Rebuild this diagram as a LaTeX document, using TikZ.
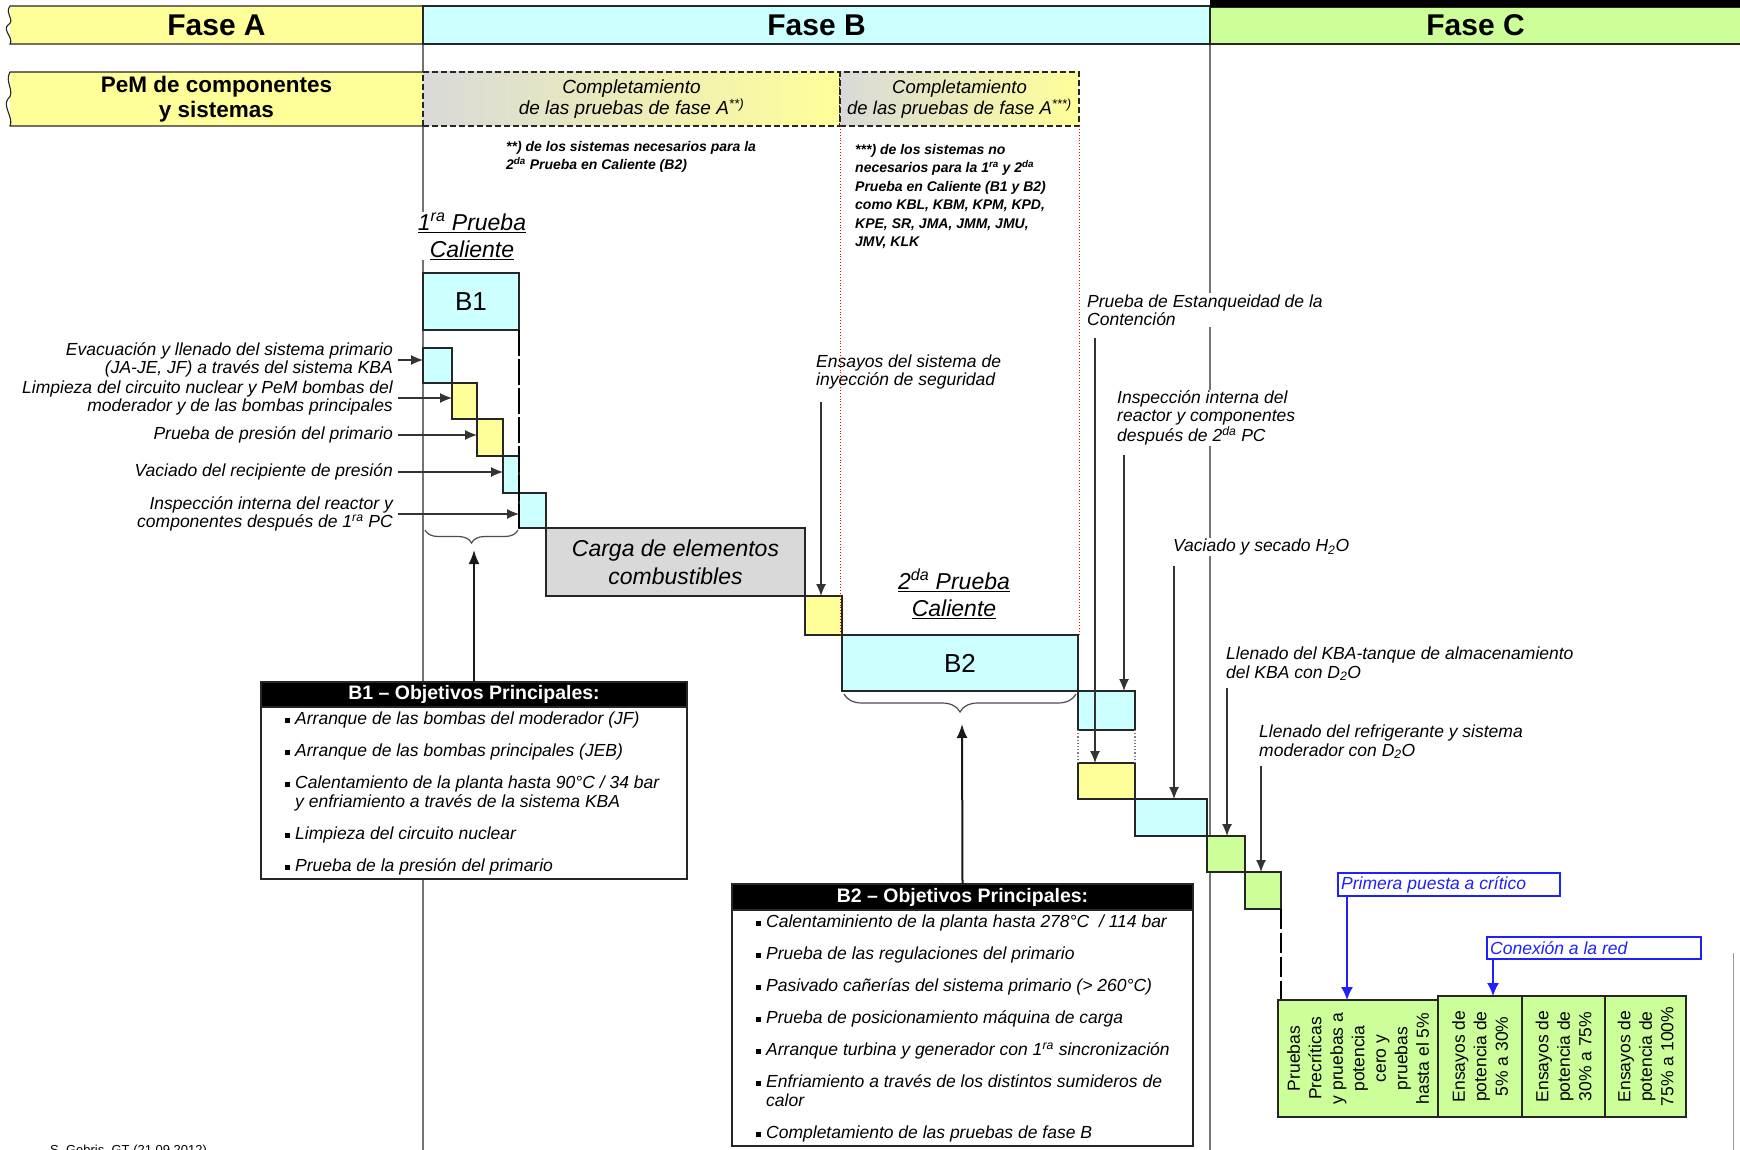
\documentclass[tikz,border=0pt]{standalone}
\usepackage{fontspec}
\setmainfont{Liberation Sans}
\usetikzlibrary{arrows.meta,decorations.pathreplacing}

\definecolor{fyel}{HTML}{FFFF99}
\definecolor{fcya}{HTML}{CCFFFF}
\definecolor{fgrn}{HTML}{CCFF99}
\definecolor{fgry}{HTML}{D9D9D9}
\definecolor{fblu}{HTML}{1F1FFF}

\newcommand{\fsz}[2]{\fontsize{#1}{#2}\selectfont}
\newcommand{\bul}{\rule[2pt]{5pt}{5pt}\hspace{5pt}}
\newcommand{\labbox}[7][]{
\node[stepbox,#1,minimum width={(#5-#3)*1pt},minimum height={(#6-#4)*1pt}] (#2) at ({(#3+#5)/2},{(#4+#6)/2}) {#7};
}

\tikzset{
  stepbox/.style={draw=black!85,line width=1.1pt,inner sep=0pt,outer sep=0pt,align=center},
  dbox/.style={dash pattern=on 6pt off 3pt,left color=fgry,right color=fyel},
  hdr/.style={fill=black,text=white,font=\fsz{19.5}{22}\bfseries},
  lab/.style={font=\fsz{17.5}{18.5}\itshape,inner sep=1pt,fill=white},
  note/.style={font=\fsz{14}{18.5}\bfseries\itshape,inner sep=0pt,align=left},
  ttl/.style={font=\fsz{23}{27}\itshape,inner sep=1pt,fill=white,align=center},
  itm/.style={font=\fsz{17.5}{19}\itshape,inner sep=0pt,align=left,anchor=north west},
  gtxt/.style={font=\fsz{17.5}{21.5},inner sep=0pt,align=center,rotate=90},
  btxt/.style={font=\fsz{17.5}{20}\itshape,text=fblu,inner sep=0pt,anchor=west},
  arr/.style={-{Latex[length=12pt,width=10pt]},line width=1.2pt,black!80},
  uparr/.style={-{Latex[length=14pt,width=11pt]},line width=2pt,black!90},
  barr/.style={-{Latex[length=13pt,width=12pt]},line width=1.4pt,fblu},
  brc/.style={decorate,decoration={brace,mirror,amplitude=#1},line width=1.2pt,black!70},
  vline/.style={black!55,line width=1.2pt},
}

\begin{document}
\begin{tikzpicture}[x=1pt,y=-1pt]
\useasboundingbox (0,0) rectangle (1740,1150);
\fill[white] (0,0) rectangle (1740,1150);

\draw[vline] (423,44) -- (423,1150);
\draw[vline] (1210,44) -- (1210,1150);
\draw[black!40,line width=1pt] (1733,953) -- (1733,1150);

% phases
\labbox[fill=fyel,draw=none,font={\fsz{30}{32}\bfseries}]{fa}{10}{6}{423}{44}{Fase A}
\labbox[fill=fcya,font={\fsz{30}{32}\bfseries}]{fb}{423}{6}{1210}{44}{Fase B}
\labbox[fill=fgrn,font={\fsz{30}{32}\bfseries}]{fc}{1210}{7}{1741}{44}{Fase C}
\fill[black] (1210,0) rectangle (1740,7);
\draw[black!85,line width=1.1pt] (fa.north east) -- (fa.north west) .. controls (4,14) and (16,20) .. (8,25) .. controls (2,30) and (14,38) .. (fa.south west) -- (fa.south east);

\labbox[fill=fyel,draw=none,font={\fsz{22.5}{25}\bfseries}]{pem}{10}{72}{423}{126}{PeM de componentes\\y sistemas}
\draw[black!85,line width=1.1pt] (pem.north east) -- (pem.north west) .. controls (4,82) and (16,92) .. (8,99) .. controls (2,106) and (14,118) .. (pem.south west) -- (pem.south east);
\labbox[dbox,font={\fsz{19}{21}\itshape}]{ca1}{423}{72}{840}{126}{Completamiento\\de las pruebas de fase A\textsuperscript{**)}}
\labbox[dbox,font={\fsz{18.5}{21}\itshape}]{ca2}{840}{72}{1079}{126}{Completamiento\\de las pruebas de fase A\textsuperscript{***)}}

\node[note,anchor=north west] (n1) at (506,141) {**) de los sistemas necesarios para la\\2\textsuperscript{da} Prueba en Caliente (B2)};
\node[note,anchor=north west] (n2) at (855,144) {***) de los sistemas no\\necesarios para la 1\textsuperscript{ra} y 2\textsuperscript{da}\\Prueba en Caliente (B1 y B2)\\como KBL, KBM, KPM, KPD,\\KPE, SR, JMA, JMM, JMU,\\JMV, KLK};

% staircase
\node[ttl] (t1) at (472,236) {\underline{1\textsuperscript{ra} Prueba}\\\underline{Caliente}};
\labbox[fill=fcya,font={\fsz{26}{28}}]{b1}{423}{273}{519}{330}{B1}
\labbox[fill=fcya]{s1}{423}{348}{452}{383}{}
\labbox[fill=fyel]{s2}{452}{383}{477}{419}{}
\labbox[fill=fyel]{s3}{477}{419}{503}{456}{}
\labbox[fill=fcya]{s4}{503}{456}{519}{493}{}
\labbox[fill=fcya]{s5}{519}{493}{546}{528}{}
\labbox[fill=fgry,font={\fsz{23}{28}\itshape}]{cg}{546}{528}{805}{596}{Carga de elementos\\combustibles}
\labbox[fill=fyel]{s7}{805}{596}{842}{635}{}
\node[ttl] (t2) at (954,594) {\underline{2\textsuperscript{da} Prueba}\\\underline{Caliente}};
\labbox[fill=fcya,font={\fsz{26}{28}}]{b2}{842}{635}{1078}{691}{B2}
\labbox[fill=fcya]{s9}{1078}{691}{1135}{730}{}
\labbox[fill=fyel]{s10}{1078}{763}{1135}{799}{}
\labbox[fill=fcya]{s11}{1135}{799}{1207}{836}{}
\labbox[fill=fgrn]{s12}{1207}{836}{1245}{872}{}
\labbox[fill=fgrn]{s13}{1245}{872}{1281}{909}{}

\draw[black,line width=1.1pt,dash pattern=on 26pt off 3pt] (b1.south east) -- (b1.south east |- s5.south);
\draw[black!50,line width=1.2pt,dotted] (s9.south west) -- (s10.north west);
\draw[black!50,line width=1.2pt,dotted] (s9.south east) -- (s10.north east);

% labels left
\node[lab,anchor=east,align=right] (ev) at (394,360) {Evacuación y llenado del sistema primario\\(JA-JE, JF) a través del sistema KBA};
\node[lab,anchor=east,align=right] (li) at (394,398) {Limpieza del circuito nuclear y PeM bombas del\\moderador y de las bombas principales};
\node[lab,anchor=east] (pp) at (394,435) {Prueba de presión del primario};
\node[lab,anchor=east] (va) at (394,472) {Vaciado del recipiente de presión};
\node[lab,anchor=east,align=right] (ii) at (394,514) {Inspección interna del reactor y\\componentes después de 1\textsuperscript{ra} PC};
\draw[arr] ([xshift=4pt]ev.east) -- (ev.east -| s1.west);
\draw[arr] ([xshift=4pt]li.east) -- (li.east -| s2.west);
\draw[arr] ([xshift=4pt]pp.east) -- (pp.east -| s3.west);
\draw[arr] ([xshift=4pt]va.east) -- (va.east -| s4.west);
\draw[arr] ([xshift=4pt]ii.east) -- (ii.east -| s5.west);

% labels right
\node[lab,anchor=west,align=left] (es) at (815,372) {Ensayos del sistema de\\inyección de seguridad};
\node[lab,anchor=west,align=left] (pe) at (1086,310) {Prueba de Estanqueidad de la\\Contención};
\node[lab,anchor=west,align=left] (ir) at (1116,418) {Inspección interna del\\reactor y componentes\\después de 2\textsuperscript{da} PC};
\node[lab,anchor=west] (vs) at (1172,547) {Vaciado y secado H\textsubscript{2}O};
\node[lab,anchor=west,align=left] (lk) at (1225,664) {Llenado del KBA-tanque de almacenamiento\\del KBA con D\textsubscript{2}O};
\node[lab,anchor=west,align=left] (lr) at (1258,742) {Llenado del refrigerante y sistema\\moderador con D\textsubscript{2}O};
\coordinate (es-a) at (821,402);
\coordinate (pe-a) at (1095,338);
\coordinate (ir-a) at (1124,455);
\coordinate (vs-a) at (1174,566);
\coordinate (lk-a) at (1227,688);
\coordinate (lr-a) at (1261,766);
\draw[arr] (es-a) -- (es-a |- s7.north);
\draw[arr] (pe-a) -- (pe-a |- s10.north);
\draw[arr] (ir-a) -- (ir-a |- s9.north);
\draw[arr] (vs-a) -- (vs-a |- s11.north);
\draw[arr] (lk-a) -- (lk-a |- s12.north);
\draw[arr] (lr-a) -- (lr-a |- s13.north);

\draw[red,line width=0.9pt,dotted] (ca2.south west) -- (ca2.south west |- b2.north);
\draw[red,line width=0.9pt,dotted] (ca2.south east) -- (ca2.south east |- b2.north);

% objectives
\draw[brc=13pt] (425,530) -- (518,530);
\coordinate (b1tip) at (474,550);
\labbox[hdr]{b1h}{261}{682}{687}{707}{B1 – Objetivos Principales:}
\labbox[fill=white]{b1o}{261}{707}{687}{879}{}
\node[itm] (b1t) at (285,712) {\bul Arranque de las bombas del moderador (JF)\\[13pt]
\bul Arranque de las bombas principales (JEB)\\[13pt]
\bul Calentamiento de la planta hasta 90°C / 34 bar\\
\phantom{\bul}y enfriamiento a través de la sistema KBA\\[13pt]
\bul Limpieza del circuito nuclear\\[13pt]
\bul Prueba de la presión del primario};
\draw[uparr] (b1h.north) -- (b1tip);

\draw[brc=18pt] (844,694) -- (1076,694);
\coordinate (b2tip) at (962,724);
\labbox[hdr]{b2h}{732}{884}{1193}{910}{B2 – Objetivos Principales:}
\labbox[fill=white]{b2o}{732}{910}{1193}{1146}{}
\node[itm] (b2t) at (756,915) {\bul Calentaminiento de la planta hasta 278°C~ / 114 bar\\[13pt]
\bul Prueba de las regulaciones del primario\\[13pt]
\bul Pasivado cañerías del sistema primario (> 260°C)\\[13pt]
\bul Prueba de posicionamiento máquina de carga\\[13pt]
\bul Arranque turbina y generador con 1\textsuperscript{ra} sincronización\\[13pt]
\bul Enfriamiento a través de los distintos sumideros de\\
\phantom{\bul}calor\\[13pt]
\bul Completamiento de las pruebas de fase B};
\draw[uparr] (b2h.north) -- (b2tip);

% phase C power tests
\draw[black,line width=1.1pt,dash pattern=on 20pt off 4pt] (s13.south east) -- (s13.south east |- 0,1000);
\labbox[fill=fgrn]{g1}{1278}{1000}{1438}{1117}{}
\labbox[fill=fgrn]{g2}{1438}{996}{1522}{1117}{}
\labbox[fill=fgrn]{g3}{1522}{996}{1605}{1117}{}
\labbox[fill=fgrn]{g4}{1605}{996}{1686}{1117}{}
\node[gtxt] (g1t) at (g1.center) {Pruebas\\Precríticas\\y pruebas a\\potencia\\cero y\\pruebas\\hasta el 5\%};
\node[gtxt] (g2t) at (g2.center) {Ensayos de\\potencia de\\5\% a 30\%};
\node[gtxt] (g3t) at (g3.center) {Ensayos de\\potencia de\\30\% a 75\%};
\node[gtxt] (g4t) at (g4.center) {Ensayos de\\potencia de\\75\% a 100\%};

\labbox[draw=fblu,line width=1.3pt]{pc}{1338}{873}{1560}{896}{}
\node[btxt] (pct) at ([xshift=3pt]pc.west) {Primera puesta a crítico};
\labbox[draw=fblu,line width=1.3pt]{cr}{1487}{937}{1701}{959}{}
\node[btxt] (crt) at ([xshift=3pt]cr.west) {Conexión a la red};
\draw[barr] ([xshift=9pt]pc.south west) -- ([xshift=9pt]pc.south west |- g1.north);
\draw[barr] ([xshift=6pt]cr.south west) -- ([xshift=6pt]cr.south west |- g2.north);

\node[font=\fsz{13}{15},anchor=base west,inner sep=0pt] (sig) at (50,1154) {S. Gebris, GT (21.09.2012)};
\end{tikzpicture}
\end{document}
